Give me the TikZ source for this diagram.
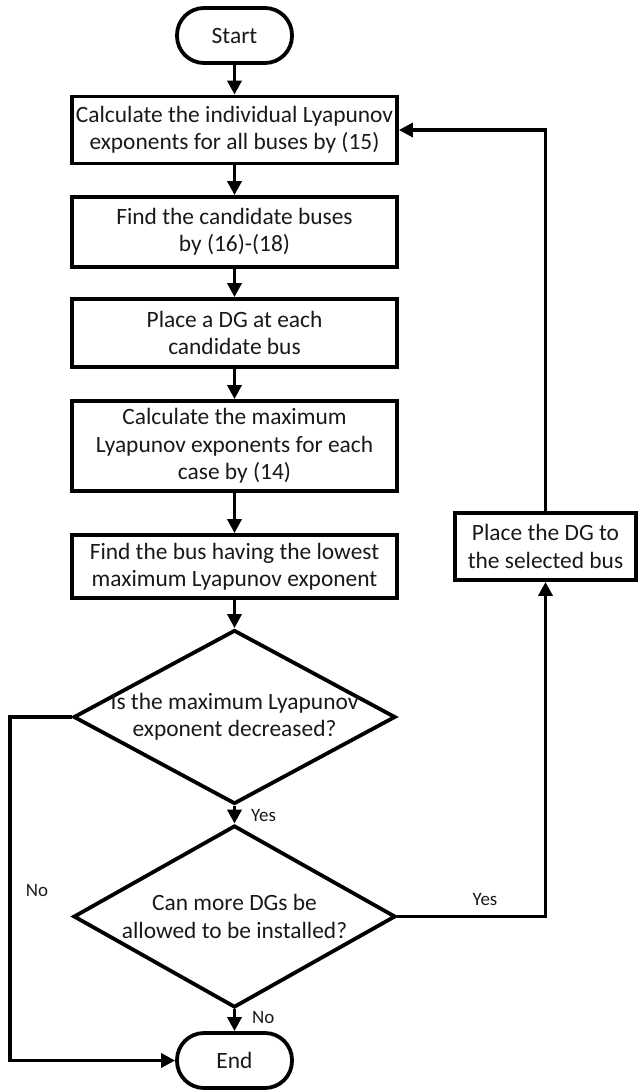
\documentclass[tikz,border=0pt]{standalone}
\usepackage{fontspec}
\setmainfont{Carlito}
\usetikzlibrary{arrows.meta,shapes.geometric}
\begin{document}
\begin{tikzpicture}[x=1bp,y=-1bp,
  every node/.style={font=\fontsize{23.5}{27.5}\selectfont, text=black!90},
  box/.style={draw=black, line width=3.8bp, rectangle, minimum width=325bp, inner sep=0pt, align=center},
  term/.style={draw=black, line width=3.8bp, rectangle, rounded corners=27bp, minimum width=115bp, minimum height=55bp, inner sep=0pt},
  dia/.style={draw=black, line width=3.8bp, diamond, inner sep=0pt},
  txt/.style={align=center, inner sep=0pt},
  lbl/.style={font=\fontsize{19}{22}\selectfont, inner sep=0pt},
  conn/.style={draw=black, line width=3.8bp, -{Triangle[length=14bp,width=14bp]}}
]
\useasboundingbox (0,0) rectangle (638,1090);

\node[term] (start) at (234.5,35.5) {Start};
\node[box, minimum height=67bp] (b1) at (234.5,130) {Calculate the individual Lyapunov\\exponents for all buses by (15)};
\node[box, minimum height=70bp] (b2) at (234.5,232) {Find the candidate buses\\by (16)-(18)};
\node[box, minimum height=68bp] (b3) at (234.5,333) {Place a DG at each\\candidate bus};
\node[box, minimum height=90bp] (b4) at (234.5,446) {Calculate the maximum\\Lyapunov exponents for each\\case by (14)};
\node[box, minimum height=63bp] (b5) at (234.5,566.5) {Find the bus having the lowest\\maximum Lyapunov exponent};
\node[dia, minimum width=322bp, minimum height=174bp] (d1) at (234.5,717) {};
\node[txt] (d1t) at (d1.center) {Is the maximum Lyapunov\\exponent decreased?};
\node[dia, minimum width=322bp, minimum height=182bp] (d2) at (234.5,916.5) {};
\node[txt] (d2t) at (d2.center) {Can more DGs be\\allowed to be installed?};
\node[term] (end) at (234.5,1060.5) {End};
\node[box, minimum width=181bp, minimum height=67bp] (place) at (545.5,546.5) {Place the DG to\\the selected bus};

\coordinate (lx) at (10,0);

\draw[conn] (start) -- (b1);
\draw[conn] (b1) -- (b2);
\draw[conn] (b2) -- (b3);
\draw[conn] (b3) -- (b4);
\draw[conn] (b4) -- (b5);
\draw[conn] (b5) -- (d1);
\draw[conn] (d1) -- (d2);
\draw[conn] (d2) -- (end);
\draw[conn] (d1.west) -- (d1.west -| lx) -- (end.west -| lx) -- (end.west);
\draw[conn] (d2.east) -| (place.south);
\draw[conn] (place.north) |- (b1.east);

\node[lbl, anchor=west] (yes1) at (251,815) {Yes};
\node[lbl, anchor=west] (no2) at (252,1017) {No};
\node[lbl] (no1) at (37,890) {No};
\node[lbl] (yes2) at (485,899) {Yes};
\end{tikzpicture}
\end{document}
